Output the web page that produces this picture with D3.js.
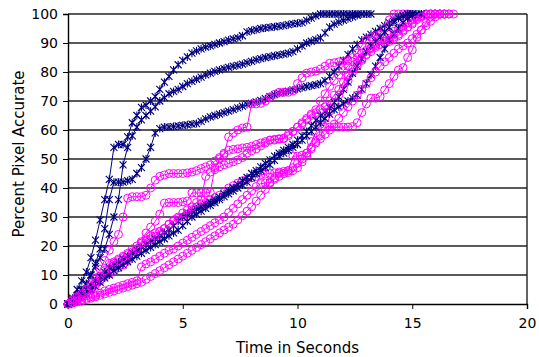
<!DOCTYPE html>
<html>
<head>
<meta charset="utf-8">
<script src="https://cdn.jsdelivr.net/npm/d3@7"></script>
<style>
  body { margin: 0; background: #fff; }
  text { font-family: "DejaVu Sans", Verdana, sans-serif; fill: #000; }
</style>
</head>
<body>
<svg id="chart" width="539" height="357"></svg>
<script>
// sample times (seconds), shared by every run
const times = [0,0.2,0.4,0.6,0.8,1,1.2,1.4,1.6,1.8,
  2,2.2,2.4,2.6,2.8,3,3.2,3.4,3.6,3.8,
  4,4.2,4.4,4.6,4.8,5,5.2,5.4,5.6,5.8,
  6,6.2,6.4,6.6,6.8,7,7.2,7.4,7.6,7.8,
  8,8.2,8.4,8.6,8.8,9,9.2,9.4,9.6,9.8,
  10,10.2,10.4,10.6,10.8,11,11.2,11.4,11.6,11.8,
  12,12.2,12.4,12.6,12.8,13,13.2,13.4,13.6,13.8,
  14,14.2,14.4,14.6,14.8,15,15.2,15.4,15.6,15.8,
  16,16.2,16.4,16.6,16.8,17];

// navy runs (star markers)
const navyA = [0,2,5,8,11,16,22,29,36,43,
  54,55,55,57.6,62.5,65,67.8,68.6,70,71.5,
  74,76.5,78.5,80.7,82.5,84,85.2,86.5,87.3,88,
  88.6,89,89.5,90,90.5,91,91.4,91.8,92.5,93.8,
  94.3,94.6,95,95.2,95.4,95.6,95.8,96,96.3,96.6,
  96.8,97,97.8,98.6,99.4,100,100,100,100,100,
  100,100,100,100];
const navyB = [0,1.5,3,5,7,10,13,16,19,24,
  30,36,48,54,58,61,63.5,65,66.5,68,
  70,71.2,72.5,73.3,74,75,76,76.8,77.5,78.2,
  79,79.6,80.2,80.7,81.2,81.6,82,82.3,82.7,83.2,
  83.7,84.2,84.6,85,85.3,85.6,85.9,86.2,86.5,87,
  88,89,90,90.6,91.2,91.8,93.5,95.5,96.5,97.2,
  97.8,98.4,99,99.5,100,100,100];
const navyC = [0,1,2.5,4.5,7,10,14,19,26,36,
  42,42,42,42.5,43,45,47,50,54,59,
  60.5,61,61,61.2,61.4,61.6,61.8,62,62.2,63,
  63.8,64.5,65,65.5,66,66.5,67,67.6,68.2,68.8,
  69.2,69.7,70.2,70.8,71.5,72.2,72.7,73,73.4,73.8,
  74.2,74.6,75,75.3,75.6,76,77,78.5,80,82,
  84,86,88,89.5,91,92,93,94,95,96,
  97,98,99,99.5,100,100];
const navyD = [0,1,2,3.5,5,6.5,8,9.5,11,12.5,
  13.5,14.5,15.5,16.5,17.5,18.5,19.5,20.5,21.5,22.5,
  23.5,24.5,25.5,27,28.5,30,31,32,32.8,33.5,
  34.3,35,35.8,36.8,38,39,40,41.2,42.5,43.7,
  45,46,47.3,48.5,49.7,51,52,53,54,55,
  56.5,58,59.5,61.5,63.4,65,66.3,67.6,69.5,71.4,
  74,76.5,79.5,82,84.5,87,89,90.5,92,93.8,
  95.5,97.3,98.5,99.3,100,100];
const navyE = [0,0.5,1.5,2.5,3.5,5,6,7.5,9,10,
  11.5,12.5,13.5,14.5,15.5,16.5,17.5,18.5,19.5,20.5,
  21.5,22.5,23.5,24.5,25.5,27,28.5,30,31,32,
  33,34,35,36,37,38,39,40,41,42,
  43.5,45,46,47,48,49.5,51,52,53,54,
  55,56.5,58,59.5,61,62.5,64,65.5,67,68,
  69,70,71,72,74,76,79,82,85,88,
  91,93,95,97,98.5,99.5,100,100];

// magenta runs (circle markers)
const pinkA = [0,0.7,1.5,3,5,7,9,12,15,18.5,
  21.5,24,30,36.5,37,37,37,37.5,40,42.7,
  44,44.5,45,45,45,45,45.2,45.5,46,46.7,
  47.3,48,49.3,50.5,51.5,57.6,59,60,60.7,61,
  69,69,69.2,70,71.4,72.3,73,73,73,73.5,
  76,78,79.6,80,80.3,81,82,83,83.2,83.5,
  83.7,84,85,86.5,89,91,92,92.5,93,95,
  98,100,100,100,100];
const pinkB = [0,1,2,3,4,5,6.5,8,9.5,10.5,
  11.5,12.5,13.5,15,17,19,21.5,24.5,26.5,28.5,
  31,34.8,35,35,35,35.2,35.5,38.3,38.3,38.3,
  38.3,38.5,47,50,52,53,53.3,53.5,53.8,54,
  54.4,55,55.5,56,56.5,56.5,56.8,57,58,59.5,
  61,62.5,64,65.5,67,70,72.5,75,77,79,
  80.5,82,83.5,85,86.5,87.5,88.3,89,89.5,90,
  90.5,91.5,92.5,94,95.5,97,98.5,99.5,100,100,
  100];
const pinkC = [0,1,2,3,4,5.5,7,8.5,10,12,
  14,15.5,16.5,17.5,19,20,21,22.5,23.5,24.5,
  25,26,27.5,28.5,29.5,30,31,32.5,33.5,34.5,
  35,36,36.7,37.5,38.5,40,40.8,41.7,42.5,43,
  43.5,44,44.5,44.8,45,45.2,45.5,45.7,46,51,
  51,51.3,52,56,59,62,64,66.5,69.5,72,
  74.5,77,80,82,84,86,88,89.5,91,92,
  93,94,95,96,97,98,99,99.5,100,100,
  100,100];
const pinkD = [0,1.5,2.5,3.5,5,6,7.5,9.5,11.5,14,
  14.5,15,16,17,18,19,21,21.7,22.5,23.5,
  25,26,27.5,29,30,31.4,32.5,33.5,35,36,
  44,45.5,46.3,47.3,48,48.5,49,49.7,50.5,52,
  52.8,53.5,54.5,55.5,56.5,56.8,57,57.2,58.5,59.5,
  61,62,63.5,65,66,67,68,70,72,74,
  76.5,79,81,83,84.5,86,87,88.5,89.5,90.5,
  91,92,93,94.5,95.5,96.5,98,99,99.7,100,
  100,100,100];
const pinkE = [0,0.5,1,1.5,2,2.5,3,3.7,4.5,5,
  5.5,6,6.5,7,7.5,8,12.8,13.8,14.5,15.5,
  16.5,17.5,18.5,19,20,21,22,23,24,25,
  26,27,28,29,30,31.5,33,34.5,36,37.5,
  39,40.5,41.5,41.7,42,43,44,45,46,47,
  48.5,50,52,54,55.5,57,58.5,60,62,64,
  66,68,70,72,74,76,78,80,82,83.5,
  85,86.5,88,89,90,91.5,93,94.5,96,97.5,
  99,100,100,100];
const pinkF = [0,0.3,0.7,1,1.5,2,2.5,3,3.5,4,
  4.5,5,5.5,6,6.5,7,7.5,8.5,9.5,10.5,
  11.5,12.5,13.5,14.5,15.5,16.5,17.5,18.5,19.5,20.5,
  21.5,22.5,23.5,24.5,25.5,26.5,27.5,29,30.5,32,
  33.5,35.5,37.5,39.5,41.7,43.5,45,45,45.3,46,
  47,49,51,53.5,56,58,61,61,61,61,
  61,61,61.2,62.5,66,69,71,71,71.5,73.8,
  76,78.5,80.7,81.5,85,87.6,92,94.5,97,99,
  100,100,100,100,100];

const xTicks = [0, 5, 10, 15, 20];
const yTicks = [0, 10, 20, 30, 40, 50, 60, 70, 80, 90, 100];

const NAVY = '#000080', PINK = '#ff00ff';
const runs = [
  { vals: navyA, kind: 'star' }, { vals: navyB, kind: 'star' }, { vals: navyC, kind: 'star' },
  { vals: pinkA, kind: 'circle' }, { vals: pinkB, kind: 'circle' }, { vals: pinkC, kind: 'circle' },
  { vals: navyD, kind: 'star' }, { vals: navyE, kind: 'star' },
  { vals: pinkD, kind: 'circle' }, { vals: pinkE, kind: 'circle' }, { vals: pinkF, kind: 'circle' }
];

const margin = { top: 14, right: 12, bottom: 53, left: 68 };
const svg = d3.select('#chart');
const width = 539 - margin.left - margin.right;
const height = 357 - margin.top - margin.bottom;
const g = svg.append('g').attr('transform', 'translate(' + margin.left + ',' + margin.top + ')');

const x = d3.scaleLinear().domain([0, 20]).range([0, width]);
const y = d3.scaleLinear().domain([0, 100]).range([height, 0]);

// horizontal grid
g.append('g').selectAll('line').data(yTicks.slice(1)).enter().append('line')
  .attr('x1', 0).attr('x2', width)
  .attr('y1', d => y(d)).attr('y2', d => y(d))
  .attr('stroke', '#222').attr('stroke-width', 1.4);

// right border
g.append('line').attr('x1', width).attr('x2', width).attr('y1', 0).attr('y2', height)
  .attr('stroke', '#222').attr('stroke-width', 1.4);

// axes
const xAxis = g.append('g').attr('transform', 'translate(0,' + height + ')')
  .call(d3.axisBottom(x).tickValues(xTicks).tickSize(5).tickPadding(9).tickFormat(d3.format('d')));
const yAxis = g.append('g')
  .call(d3.axisLeft(y).tickValues(yTicks).tickSize(5).tickPadding(5).tickFormat(d3.format('d')));
[xAxis, yAxis].forEach(a => {
  a.selectAll('path').attr('stroke', '#000').attr('stroke-width', 1.4);
  a.selectAll('line').attr('stroke', '#000');
  a.selectAll('text').attr('font-family', '"DejaVu Sans", Verdana, sans-serif').attr('font-size', 14).attr('fill', '#000');
});

// series
const line = d3.line().x(d => x(d[0])).y(d => y(d[1]));
const star = 'M-3.5,-3.5L3.5,3.5M-3.5,3.5L3.5,-3.5M0,-4L0,4';
runs.forEach(r => {
  const pts = r.vals.map((v, i) => [times[i], v]);
  const col = r.kind === 'star' ? NAVY : PINK;
  const sg = g.append('g');
  sg.append('path').datum(pts).attr('d', line)
    .attr('fill', 'none').attr('stroke', col).attr('stroke-width', 1);
  if (r.kind === 'star') {
    sg.selectAll('path.m').data(pts).enter().append('path').attr('class', 'm')
      .attr('transform', d => 'translate(' + x(d[0]) + ',' + y(d[1]) + ')')
      .attr('d', star).attr('stroke', col).attr('stroke-width', 1.1).attr('fill', 'none');
  } else {
    sg.selectAll('circle').data(pts).enter().append('circle')
      .attr('cx', d => x(d[0])).attr('cy', d => y(d[1])).attr('r', 4)
      .attr('fill', 'none').attr('stroke', col).attr('stroke-width', 1);
  }
});

// titles
svg.append('text').attr('x', margin.left + width / 2).attr('y', 353)
  .attr('text-anchor', 'middle').attr('font-size', 15).text('Time in Seconds');
svg.append('text').attr('transform', 'translate(24,154) rotate(-90)')
  .attr('text-anchor', 'middle').attr('font-size', 15).text('Percent Pixel Accurate');
</script>
</body>
</html>
